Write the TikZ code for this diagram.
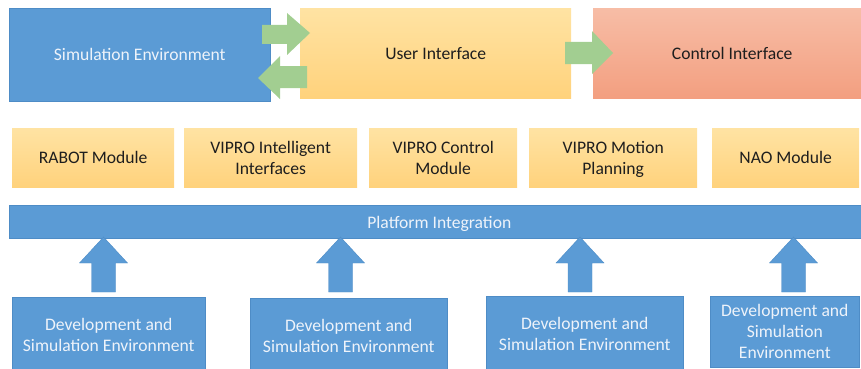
\documentclass[tikz,border=0pt]{standalone}
\usepackage{fontspec}
\setmainfont{Carlito}
\definecolor{bluefill}{HTML}{5B9BD5}
\definecolor{blueedge}{HTML}{4E8CC6}
\definecolor{bluetext}{HTML}{EEF3FA}
\definecolor{yeltop}{HTML}{FFE3A3}
\definecolor{yelbot}{HTML}{FFD27C}
\definecolor{saltop}{HTML}{F7BDA6}
\definecolor{salbot}{HTML}{F39F80}
\definecolor{arrgreen}{HTML}{A2CE91}
\definecolor{darktext}{HTML}{1E1E1E}
\begin{document}
\begin{tikzpicture}[x=1pt,y=-1pt,
  lbl/.style={font=\fontsize{17.6pt}{21pt}\selectfont, align=center, inner sep=0pt},
  bluebox/.style={lbl, rectangle, fill=bluefill, draw=blueedge, line width=0.6pt, text=bluetext, anchor=north west},
  yelbox/.style={lbl, rectangle, top color=yeltop, bottom color=yelbot, draw=none, text=darktext, anchor=north west},
  salbox/.style={lbl, rectangle, top color=saltop, bottom color=salbot, draw=none, text=darktext, anchor=north west},
  garrow/.style={fill=arrgreen, draw=none},
  barrow/.style={fill=bluefill, draw=blueedge, line width=0.4pt}]
\useasboundingbox (0,0) rectangle (861,369);
% top row
\node[bluebox, minimum width=261pt, minimum height=93pt] (sim) at (9,8) {Simulation Environment};
\node[yelbox, minimum width=271pt, minimum height=90pt] (ui) at (300,8) {User Interface};
\node[salbox, minimum width=278pt, minimum height=90pt] (ci) at (593,8) {Control Interface};
% green arrows
\fill[garrow] (262,25) -- (287,25) -- (287,13) -- (310,33) -- (287,55) -- (287,44) -- (262,44) -- cycle;
\fill[garrow] (307,66) -- (280,66) -- (280,56) -- (258,78) -- (280,99) -- (280,88) -- (307,88) -- cycle;
\fill[garrow] (565,42) -- (592,42) -- (592,31) -- (613,53) -- (592,74) -- (592,64) -- (565,64) -- cycle;
% module row
\node[yelbox, minimum width=162pt, minimum height=59pt] (rabot) at (12,128) {RABOT Module};
\node[yelbox, minimum width=173pt, minimum height=59pt] (vii) at (184,128) {VIPRO Intelligent\\Interfaces};
\node[yelbox, minimum width=148pt, minimum height=59pt] (vcm) at (369,128) {VIPRO Control\\Module};
\node[yelbox, minimum width=168pt, minimum height=59pt] (vmp) at (529,128) {VIPRO Motion\\\raisebox{0pt}[\height][0pt]{Planning}};
\node[yelbox, minimum width=147pt, minimum height=59pt] (nao) at (712,128) {NAO Module};
% platform bar
\node[bluebox, minimum width=860pt, minimum height=33pt] (plat) at (9,205) {\raisebox{-2.5pt}[\height][\depth]{Platform Integration}};
% bottom boxes
\node[bluebox, minimum width=193pt, minimum height=75pt] (d1) at (12,297) {Development and\\Simulation Environment};
\node[bluebox, minimum width=197pt, minimum height=75pt] (d2) at (250,298) {Development and\\Simulation Environment};
\node[bluebox, minimum width=197pt, minimum height=75pt] (d3) at (486,296) {Development and\\Simulation Environment};
\node[bluebox, minimum width=149pt, minimum height=71pt] (d4) at (710,296) {Development and\\Simulation\\Environment};
% up arrows
\foreach \cx in {103.5,340.5,580,793.5}{
  \filldraw[barrow] (\cx-12,292) -- (\cx-12,263) -- (\cx-24,263) -- (\cx,237) -- (\cx+24,263) -- (\cx+12,263) -- (\cx+12,292) -- cycle;
}
\end{tikzpicture}
\end{document}
